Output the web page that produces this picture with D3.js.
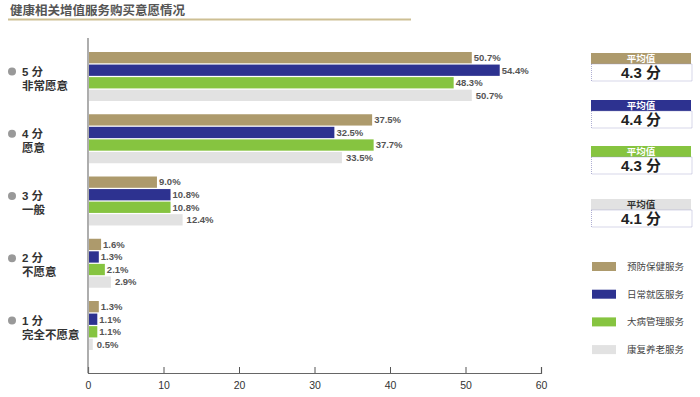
<!DOCTYPE html>
<html>
<head>
<meta charset="utf-8">
<title>健康相关增值服务购买意愿情况</title>
<style>
  body { margin: 0; background: #fff; font-family: "Liberation Sans", "Noto Sans CJK SC", sans-serif; }
  svg text { font-family: "Liberation Sans", "Noto Sans CJK SC", sans-serif; }
</style>
</head>
<body>
<svg id="chart" width="700" height="397"></svg>
<script src="https://d3js.org/d3.v7.min.js"></script>
<script>
// 数据
const scores = ["5 分", "4 分", "3 分", "2 分", "1 分"];
const scoreNames = ["非常愿意", "愿意", "一般", "不愿意", "完全不愿意"];
const services = ["预防保健服务", "日常就医服务", "大病管理服务", "康复养老服务"];
const prevention = [50.7, 37.5, 9.0, 1.6, 1.3];
const daily = [54.4, 32.5, 10.8, 1.3, 1.1];
const illness = [48.3, 37.7, 10.8, 2.1, 1.1];
const rehab = [50.7, 33.5, 12.4, 2.9, 0.5];
const averages = ["4.3", "4.4", "4.3", "4.1"];
const xTicks = [0, 10, 20, 30, 40, 50, 60];

const series = [prevention, daily, illness, rehab];
const colors = ["#ad9a6c", "#2d3290", "#86c440", "#e2e2e2"];

const svg = d3.select("#chart");

// 标题
svg.append("text").attr("x", 10).attr("y", 15)
  .attr("font-size", 12.5).attr("fill", "#555").attr("font-weight", "bold")
  .text("健康相关增值服务购买意愿情况");
svg.append("line").attr("x1", 8).attr("x2", 411).attr("y1", 19.5).attr("y2", 19.5)
  .attr("stroke", "#cdbf94").attr("stroke-width", 2);

// 比例尺
const x = d3.scaleLinear().domain([0, 60]).range([88, 541]);
const y = d3.scaleBand().domain(scores).range([52, 350]).paddingInner(0.213).paddingOuter(0);
const ySub = d3.scaleBand().domain(d3.range(4)).range([0, y.bandwidth()]).paddingInner(0.1);

// 坐标轴
const xAxis = d3.axisBottom(x).tickValues(xTicks).tickSize(-6).tickPadding(9).tickFormat(d3.format("d"));
const gx = svg.append("g").attr("transform", "translate(0,373)").call(xAxis);
gx.select(".domain").attr("stroke", "#666").attr("stroke-width", 1.2);
gx.selectAll(".tick line").attr("stroke", "#555");
gx.selectAll(".tick text").attr("font-size", 10.5).attr("fill", "#333");
svg.append("line").attr("x1", x(0)).attr("x2", x(0)).attr("y1", 38).attr("y2", 373)
  .attr("stroke", "#777").attr("stroke-width", 1.2);

// 柱
const groups = svg.append("g").selectAll("g")
  .data(scores).enter().append("g")
  .attr("transform", d => `translate(0,${y(d)})`);

groups.each(function(s, gi) {
  const g = d3.select(this);
  series.forEach((vals, si) => {
    const v = vals[gi];
    g.append("rect")
      .attr("x", x(0) + 1).attr("y", ySub(si))
      .attr("width", x(v) - x(0)).attr("height", ySub.bandwidth())
      .attr("fill", colors[si]);
    g.append("text")
      .attr("x", x(v) + (si === 3 ? 5 : 3))
      .attr("y", ySub(si) + ySub.bandwidth() / 2)
      .attr("dy", "0.35em")
      .attr("font-size", 9.5).attr("font-weight", "bold").attr("fill", "#555")
      .text(v.toFixed(1) + "%");
  });
  const cy = y.bandwidth() / 2;
  g.append("circle").attr("cx", 12).attr("cy", cy - 5).attr("r", 4).attr("fill", "#999");
  g.append("text").attr("x", 22).attr("y", cy - 5).attr("dy", "0.35em")
    .attr("font-size", 11.5).attr("font-weight", "bold").attr("fill", "#333")
    .text(s);
  g.append("text").attr("x", 22).attr("y", cy + 9).attr("dy", "0.35em")
    .attr("font-size", 11.5).attr("font-weight", "bold").attr("fill", "#333")
    .text(scoreNames[gi]);
});

// 平均值
const boxTops = [53, 100, 146, 199];
averages.forEach((a, i) => {
  const g = svg.append("g").attr("transform", `translate(591,${boxTops[i]})`);
  g.append("rect").attr("x", 0).attr("y", 0).attr("width", 100).attr("height", 11).attr("fill", colors[i]);
  g.append("text").attr("x", 50).attr("y", 5.8).attr("dy", "0.35em").attr("text-anchor", "middle")
    .attr("font-size", 9.5).attr("font-weight", "bold").attr("fill", i === 3 ? "#333" : "#fff")
    .text("平均值");
  g.append("rect").attr("x", 0.5).attr("y", 11).attr("width", 100.5).attr("height", 17)
    .attr("fill", "none").attr("stroke", "#9a9ac8").attr("stroke-width", 0.8).attr("stroke-dasharray", "1,1");
  g.append("text").attr("x", 50).attr("y", 20).attr("dy", "0.35em").attr("text-anchor", "middle")
    .attr("font-size", 15).attr("font-weight", "bold").attr("fill", "#222")
    .text(a + " 分");
});

// 图例
const legend = svg.append("g").selectAll("g").data(services).enter().append("g")
  .attr("transform", (d, i) => `translate(592,${262 + i * 27.7})`);
legend.append("rect").attr("width", 24).attr("height", 9).attr("fill", (d, i) => colors[i]);
legend.append("text").attr("x", 35).attr("y", 4.5).attr("dy", "0.35em")
  .attr("font-size", 9.5).attr("fill", "#444").text(d => d);
</script>
</body>
</html>
